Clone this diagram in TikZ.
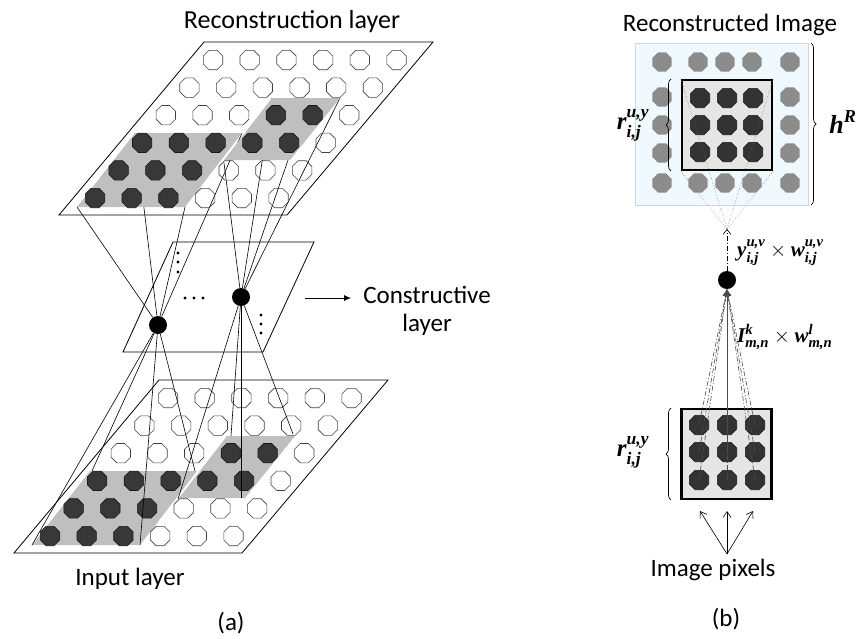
\documentclass[tikz,border=0pt]{standalone}
\usepackage{fontspec}
\usepackage{amsmath}
\setmainfont{Carlito}
\newfontfamily\lblfont{Liberation Serif}
\usetikzlibrary{shapes.geometric,arrows.meta,decorations.pathreplacing}
\newcommand{\bi}[1]{\text{\lblfont\bfseries\itshape #1}}
\newcommand{\drawcells}[3]{%
  \foreach \r/\c in {2/3,2/4,3/0,3/1,3/2,3/3,3/4,4/0,4/1,4/2,5/0,5/1,5/2}{%
    \node[dcell] (#1d\r\c) at ({#2-23.6*\r+36.7*\c},{#3+27.6*\r}) {};}
  \foreach \r/\c in {0/0,0/1,0/2,0/3,0/4,0/5,1/0,1/1,1/2,1/3,1/4,1/5,2/0,2/1,2/2,2/5,3/5,4/3,4/4,4/5,5/3,5/4,5/5}{%
    \node[wcell] (#1w\r\c) at ({#2-23.6*\r+36.7*\c},{#3+27.6*\r}) {};}
}
\begin{document}
\begin{tikzpicture}[x=1pt,y=-1pt,
  oct/.style={regular polygon, regular polygon sides=8, minimum size=21pt, inner sep=0pt, line width=0.6pt},
  wcell/.style={oct, draw=black!75},
  dcell/.style={oct, draw=black!90, fill=black!78},
  gcell/.style={oct, fill=black!45},
  kcell/.style={oct, fill=black!80, draw=black!90},
  layer/.style={draw=black, line width=0.8pt},
  conn/.style={draw=black, line width=0.6pt},
  patch/.style={fill=black!25},
  tinydot/.style={circle, fill=black, inner sep=0pt, minimum size=3.2pt},
  unit/.style={circle, fill=black, inner sep=0pt, minimum size=18pt},
  txt/.style={font=\fontsize{25}{28}\selectfont, inner sep=0pt},
  lbl/.style={inner sep=0pt},
  dashdot/.style={line width=0.6pt, dash pattern=on 5pt off 2pt on 1pt off 2pt},
  fanline/.style={draw=black!70, line width=0.6pt, dash pattern=on 5pt off 2pt on 1pt off 2pt},
  dotline/.style={draw=black!55, line width=0.6pt, dotted},
  thin arrow/.style={line width=0.6pt, -{Straight Barb[length=6pt,width=8pt]}},
  brc/.style={decorate, decoration={brace, amplitude=5pt}, line width=0.7pt}
]
\useasboundingbox (0,0) rectangle (867,638);

% ---------------- (a) ----------------
% reconstruction layer
\coordinate (T1) at (204,42); \coordinate (T2) at (433,42);
\coordinate (T3) at (287,215); \coordinate (T4) at (59,215);
\draw[layer] (T1) -- (T2) -- (T3) -- (T4) -- cycle;

% constructive layer
\coordinate (C1) at (173,242); \coordinate (C2) at (314,242);
\coordinate (C3) at (263,352); \coordinate (C4) at (123,352);
\draw[layer] (C1) -- (C2) -- (C3) -- (C4) -- cycle;
\node[unit] (n1) at (158,325) {};
\node[unit] (n2) at (241,297) {};

% connections to reconstruction layer (under patches)
\coordinate (ua1) at (77,207); \coordinate (ua2) at (135,133);
\coordinate (ua3) at (185,207); \coordinate (ua4) at (242,133);
\coordinate (ub1) at (224,163); \coordinate (ub2) at (272,98);
\coordinate (ub3) at (288,160); \coordinate (ub4) at (340,98);
\foreach \p in {ua1,ua2,ua3,ua4} \draw[conn] (n1) -- (\p);
\foreach \p in {ub1,ub2,ub3,ub4} \draw[conn] (n2) -- (\p);

\fill[patch] (77,207) -- (185,207) -- (242,133) -- (135,133) -- cycle;
\fill[patch] (224,160) -- (290,160) -- (340,98) -- (272,98) -- cycle;
\drawcells{t}{213}{60}

% dots in constructive layer
\node[tinydot] (h1) at (185,298) {};
\node[tinydot] (h2) at (194,298) {};
\node[tinydot] (h3) at (203,298) {};
\node[tinydot] (v1) at (178,253) {};
\node[tinydot] (v2) at (178,262) {};
\node[tinydot] (v3) at (178,272) {};
\node[tinydot] (w1) at (261,315) {};
\node[tinydot] (w2) at (261,324) {};
\node[tinydot] (w3) at (261,333) {};

% arrow + label
\coordinate (ar0) at (305,298);
\node[txt, align=center] (clabel) at (427,311) {Constructive\\layer};
\draw[line width=0.8pt, -{Latex[length=7pt,width=6pt]}] (ar0) -- (351,298);

% input layer
\coordinate (I1) at (159,380); \coordinate (I2) at (388,380);
\coordinate (I3) at (242,553); \coordinate (I4) at (14,553);
\draw[layer] (I1) -- (I2) -- (I3) -- (I4) -- cycle;
\fill[patch] (32,545) -- (140,545) -- (197,471) -- (90,471) -- cycle;
\fill[patch] (179,498) -- (245,498) -- (295,436) -- (227,436) -- cycle;
\drawcells{b}{168}{398}

% connections to input layer (over patches)
\coordinate (la1) at (32,545); \coordinate (la2) at (92,471);
\coordinate (la3) at (140,545); \coordinate (la4) at (195,471);
\coordinate (lb1) at (178,499); \coordinate (lb2) at (231,436);
\coordinate (lb3) at (241,498); \coordinate (lb4) at (293,434);
\foreach \p in {la1,la2,la3,la4} \draw[conn] (n1) -- (\p);
\foreach \p in {lb1,lb2,lb3,lb4} \draw[conn] (n2) -- (\p);

\node[txt, anchor=base, font=\fontsize{26}{30}\selectfont] (ttop) at (292,28) {Reconstruction layer};
\node[txt, anchor=base] (tin) at (130,585) {Input layer};
\node[txt, anchor=base] (ta) at (231,630) {(a)};

% ---------------- (b) ----------------
\node[draw=cyan!15!black!20, fill=cyan!6!white, line width=0.6pt,
      minimum width=173pt, minimum height=162pt, inner sep=0pt] (outer) at (721.5,124) {};
\foreach \x/\n in {662/a,698/b,725/c,752/d,790/e}{
  \node[gcell] (gt\n) at (\x,62) {};
  \node[gcell] (gb\n) at (\x,183) {};
}
\foreach \y/\n in {97/a,125/b,153/c}{
  \node[gcell] (gl\n) at (662,\y) {};
  \node[gcell] (gr\n) at (790,\y) {};
}
\node[draw=black, line width=2.5pt, fill=black!10, minimum width=90pt, minimum height=90pt, inner sep=0pt] (inbox) at (727,125) {};
\foreach \x/\i in {700/1,727/2,753/3}
  \foreach \y/\j in {98/1,125/2,152/3}
    \node[kcell] (rk\i\j) at (\x,\y) {};

\coordinate (conv) at (727,229);
\foreach \a in {north west,north east,south west,south east}
  \draw[dotline] (inbox.\a) -- (conv);

\node[unit] (m) at (727,280) {};
\draw[dashdot, -{Straight Barb[length=5pt,width=8pt]}] (m.north) -- (conv);

\node[draw=black, line width=2.5pt, fill=black!10, minimum width=90pt, minimum height=90pt, inner sep=0pt] (inbox2) at (726.5,454) {};
\foreach \x/\i in {699/1,727/2,755/3}
  \foreach \y/\j in {425/1,452/2,480/3}
    \node[kcell] (pk\i\j) at (\x,\y) {};
\foreach \i in {1,2,3}
  \foreach \j in {1,2,3}
    \draw[fanline, -{Latex[length=7pt,width=6pt]}] (pk\i\j.center) -- (m.south);

% braces
\draw[brc] (671,171) -- (671,79);
\draw[brc] (671,500) -- (671,408);
\draw[brc] (811,43) -- (811,205);

% labels
\node[lbl] (rlab1) at (633,125) {\fontsize{25}{25}\selectfont $\bi{r}^{\bi{u,y}}_{\bi{i,j}}$};
\node[lbl] (rlab2) at (633,452) {\fontsize{25}{25}\selectfont $\bi{r}^{\bi{u,y}}_{\bi{i,j}}$};
\node[lbl] (hlab) at (843,122) {\fontsize{26}{26}\selectfont $\bi{h}^{\bi{R}}$};
\node[lbl, anchor=west] (ylab) at (737,253) {\fontsize{21}{21}\selectfont $\bi{y}^{\bi{u,v}}_{\bi{i,j}}\times\bi{w}^{\bi{u,v}}_{\bi{i,j}}$};
\node[lbl, anchor=west] (ilab) at (737,337) {\fontsize{21}{21}\selectfont $\bi{I}^{\bi{k}}_{\bi{m,n}}\times\bi{w}^{\bi{l}}_{\bi{m,n}}$};

% image pixels arrows
\coordinate (ip) at (727,554);
\coordinate (ipa) at (700,511); \coordinate (ipb) at (727,511); \coordinate (ipc) at (753,511);
\foreach \p in {ipa,ipb,ipc} \draw[thin arrow] (ip) -- (\p);

\node[txt, anchor=base] (trec) at (730,31) {Reconstructed Image};
\node[txt, anchor=base] (tpix) at (713,576) {Image pixels};
\node[txt, anchor=base] (tb) at (726,626) {(b)};
\end{tikzpicture}
\end{document}
